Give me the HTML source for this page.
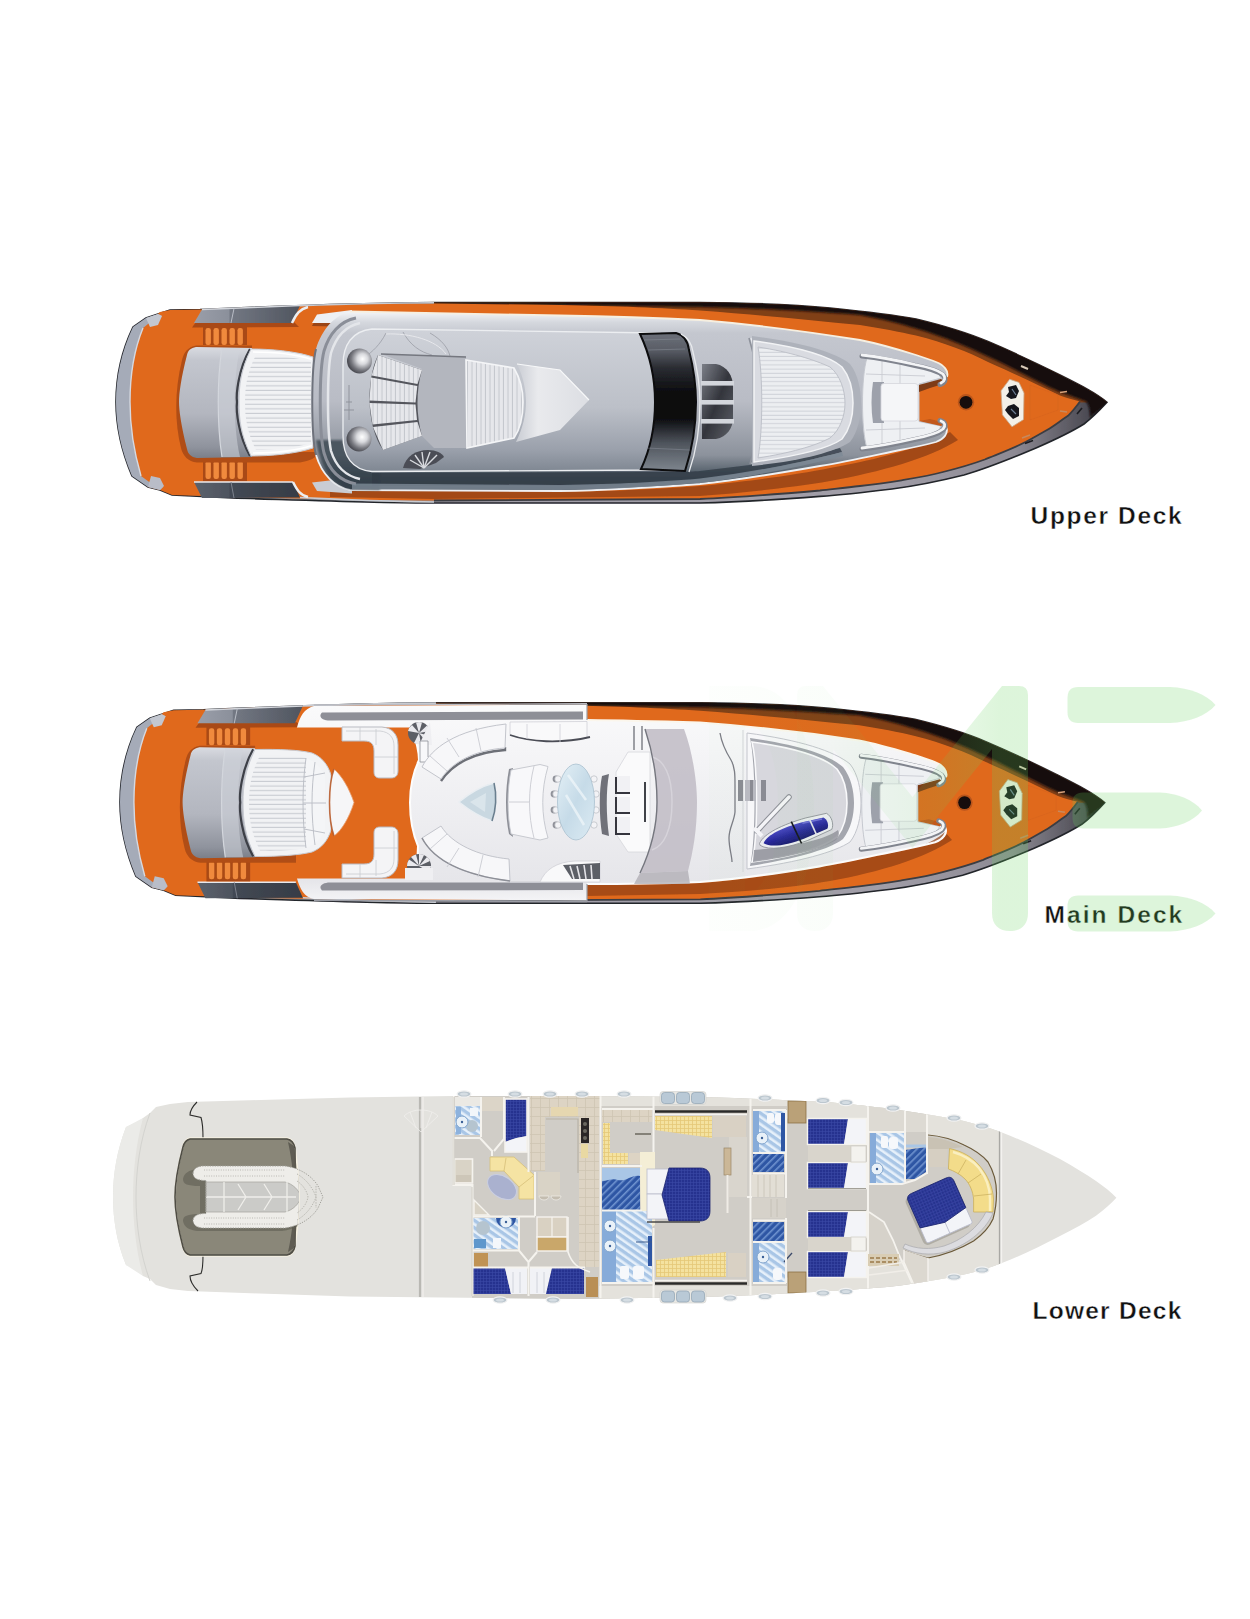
<!DOCTYPE html>
<html lang="en">
<head>
<meta charset="utf-8">
<title>Deck Plans</title>
<style>
html,body{margin:0;padding:0;background:#fff;}
body{width:1250px;height:1619px;overflow:hidden;position:relative;font-family:"Liberation Sans",sans-serif;}
svg{position:absolute;left:0;top:0;display:block;}
.lbl{font-family:"Liberation Sans",sans-serif;font-weight:700;font-size:24.5px;fill:#111;stroke:#fff;stroke-width:0.4px;}
</style>
</head>
<body>
<svg width="1250" height="1619" viewBox="0 0 1250 1619">
<defs>
<path id="hullOuter" d="M170,310 L200,309.5 C280,306 360,303 434,302.5 L700,302.5 C760,303 800,305 830,308 C870,312 900,316 916,319 C945,326 968,333 988,341.6 C1015,353 1040,365 1060,375 C1080,385 1096,393 1107,402.3 C1099,411 1092,418 1084,424 C1068,434 1052,441 1036,448 C1010,459 988,468 964,475 C940,481 915,486 892,489 C868,492 842,495 820,496.4 C780,499.5 740,502 700,503 L434,503 C380,503 300,500 232,498 L172,495 L160,490 L148,487 L132,476 C121,450 116,426 116,402 C116,378 121,352 133,327 L146,318 L158,314 Z"/>
<path id="deckOrange" d="M170,310 L200,309.5 C280,306 360,303.6 434,303.5 L560,305 C620,306 660,308 700,310.5 C760,315 810,320 860,325 C880,328 900,332 916,335.6 C945,343 968,352 988,362 C1015,374 1040,386 1060,395.6 C1068,398.5 1074,400 1080,401.5 C1076,407 1072,412 1068,415.8 C1060,421 1054,426 1047,430 C1040,434 1033,438 1026,441.8 C1012,449 998,454 984.8,459.5 C970,465 957,468.5 943,472 C930,475.5 915,478 901.6,480.3 C888,482.5 874,484.5 860,486 C846,487.8 833,489 820,490.5 C780,494 740,497.5 700,499 L434,500.5 C380,500.5 300,498.5 232,497 L172,495 L160,490 L148,487 L140,478 C134,455 130,428 130,402 C130,376 134,350 142,328 L152,319 L160,312 Z"/>
<linearGradient id="gHullSide" x1="0" y1="0" x2="0" y2="1">
 <stop offset="0" stop-color="#120d0b"/><stop offset="0.2" stop-color="#3a1f10"/><stop offset="0.45" stop-color="#8a4519"/><stop offset="0.55" stop-color="#5a4a40"/><stop offset="0.8" stop-color="#3c3f45"/><stop offset="1" stop-color="#1b1d22"/>
</linearGradient>
<linearGradient id="gSuper" x1="0" y1="0" x2="0" y2="1">
 <stop offset="0" stop-color="#f4f5f7"/><stop offset="0.06" stop-color="#d5d8de"/><stop offset="0.12" stop-color="#c4c7cf"/><stop offset="0.5" stop-color="#b9bcc5"/><stop offset="0.8" stop-color="#8c929c"/><stop offset="0.9" stop-color="#55606b"/><stop offset="1" stop-color="#39434e"/>
</linearGradient>
<linearGradient id="gFly" x1="0" y1="0" x2="0" y2="1">
 <stop offset="0" stop-color="#cfd2d9"/><stop offset="0.55" stop-color="#bcc0c8"/><stop offset="0.85" stop-color="#9aa0ab"/><stop offset="1" stop-color="#7f8792"/>
</linearGradient>
<linearGradient id="gCyl" x1="0" y1="0" x2="0" y2="1">
 <stop offset="0" stop-color="#d9dbe1"/><stop offset="0.12" stop-color="#c3c6ce"/><stop offset="0.6" stop-color="#b3b6bf"/><stop offset="0.9" stop-color="#8f939d"/><stop offset="1" stop-color="#7b7f89"/>
</linearGradient>
<linearGradient id="gGlass" x1="0" y1="0" x2="0" y2="1">
 <stop offset="0" stop-color="#6c7079"/><stop offset="0.12" stop-color="#5a5e67"/><stop offset="0.25" stop-color="#2b2d33"/><stop offset="0.45" stop-color="#08080b"/><stop offset="0.62" stop-color="#0c0c10"/><stop offset="0.8" stop-color="#4f555d"/><stop offset="1" stop-color="#7e858e"/>
</linearGradient>
<linearGradient id="gVent" x1="0" y1="0" x2="1" y2="1">
 <stop offset="0" stop-color="#7b7e87"/><stop offset="0.5" stop-color="#33353c"/><stop offset="1" stop-color="#5d6068"/>
</linearGradient>
<radialGradient id="gDome" cx="0.62" cy="0.42" r="0.6">
 <stop offset="0" stop-color="#ffffff"/><stop offset="0.35" stop-color="#d8d9dd"/><stop offset="0.75" stop-color="#77787f"/><stop offset="1" stop-color="#4d4e55"/>
</radialGradient>
<linearGradient id="gPanelT" x1="0" y1="0" x2="1" y2="0">
 <stop offset="0" stop-color="#9a9ea9"/><stop offset="0.33" stop-color="#8b909b"/><stop offset="0.34" stop-color="#737883"/><stop offset="1" stop-color="#50555f"/>
</linearGradient>
<linearGradient id="gPanelB" x1="0" y1="0" x2="1" y2="0">
 <stop offset="0" stop-color="#5b616c"/><stop offset="0.33" stop-color="#4e545f"/><stop offset="0.34" stop-color="#434954"/><stop offset="1" stop-color="#363c46"/>
</linearGradient>
<linearGradient id="gArrow" x1="0" y1="0" x2="1" y2="0">
 <stop offset="0" stop-color="#c9ccd3"/><stop offset="0.3" stop-color="#e9eaed"/><stop offset="1" stop-color="#dcdee3"/>
</linearGradient>
<pattern id="pHStripe" width="4" height="4.6" patternUnits="userSpaceOnUse">
 <rect width="4" height="4.6" fill="#f1f2f4"/><rect y="3.5" width="4" height="1.1" fill="#c9ccd2"/>
</pattern>
<pattern id="pVStripe" width="4.5" height="4" patternUnits="userSpaceOnUse">
 <rect width="4.5" height="4" fill="#e6e7eb"/><rect x="3.5" width="1" height="4" fill="#c3c6cd"/>
</pattern>
<pattern id="pHStripe2" width="4" height="4.2" patternUnits="userSpaceOnUse">
 <rect width="4" height="4.2" fill="#eceef1"/><rect y="3.2" width="4" height="1" fill="#cfd2d8"/>
</pattern>
<filter id="blur1"><feGaussianBlur stdDeviation="1"/></filter>
<filter id="blur2"><feGaussianBlur stdDeviation="2"/></filter>
<filter id="blur06"><feGaussianBlur stdDeviation="0.6"/></filter>
<linearGradient id="gSuperM" x1="0" y1="0" x2="0" y2="1">
 <stop offset="0" stop-color="#fafafb"/><stop offset="0.5" stop-color="#efeff2"/><stop offset="0.9" stop-color="#e6e6ea"/><stop offset="1" stop-color="#f4f4f6"/>
</linearGradient>
<linearGradient id="gTable" x1="0" y1="0" x2="1" y2="1">
 <stop offset="0" stop-color="#e4f0f6"/><stop offset="0.5" stop-color="#c6dbe8"/><stop offset="1" stop-color="#dcebf3"/>
</linearGradient>
<linearGradient id="gJet" x1="0" y1="0" x2="0" y2="1">
 <stop offset="0" stop-color="#4a49c4"/><stop offset="0.5" stop-color="#2a2a9c"/><stop offset="1" stop-color="#1b1b70"/>
</linearGradient>
<linearGradient id="gTube" x1="0" y1="0" x2="0" y2="1">
 <stop offset="0" stop-color="#ffffff"/><stop offset="0.6" stop-color="#d5d6dc"/><stop offset="1" stop-color="#8f929b"/>
</linearGradient>
<pattern id="pBath" width="6" height="6" patternUnits="userSpaceOnUse" patternTransform="rotate(-55)">
 <rect width="6" height="6" fill="#a9c6e6"/><rect width="2.6" height="6" fill="#e6f0fa"/>
</pattern>
<pattern id="pBlueStripe" width="5" height="5" patternUnits="userSpaceOnUse" patternTransform="rotate(45)">
 <rect width="5" height="5" fill="#2f56a4"/><rect width="1.6" height="5" fill="#6f93cf"/>
</pattern>
<pattern id="pBed" width="3" height="3" patternUnits="userSpaceOnUse">
 <rect width="3" height="3" fill="#27338f"/><rect width="3" height="0.6" fill="#3a47a6"/><rect width="0.6" height="3" fill="#3a47a6"/>
</pattern>
<pattern id="pYellow" width="4" height="4" patternUnits="userSpaceOnUse">
 <rect width="4" height="4" fill="#f4e2a0"/><rect width="4" height="0.8" fill="#e5c877"/><rect width="0.8" height="4" fill="#e5c877"/>
</pattern>
<pattern id="pTile" width="9" height="9" patternUnits="userSpaceOnUse">
 <rect width="9" height="9" fill="#ddd4c4"/><rect width="9" height="0.8" fill="#cfc5b3"/><rect width="0.8" height="9" fill="#cfc5b3"/>
</pattern>
<g id="ph"><ellipse rx="7" ry="3.2" fill="#bcc7cf" stroke="#f2f2f2" stroke-width="1.2"/><ellipse rx="4" ry="1.6" fill="#d5dde3"/></g>
<g id="ph3"><rect x="-23" y="-6.5" width="46" height="13" rx="3" fill="#e9e8e4" stroke="#d0d0cc" stroke-width="0.6"/><rect x="-21.5" y="-5.5" width="13" height="11" rx="3" fill="#b9c9d6" stroke="#8fa2b2" stroke-width="0.7"/><rect x="-6.5" y="-5.5" width="13" height="11" rx="3" fill="#b9c9d6" stroke="#8fa2b2" stroke-width="0.7"/><rect x="8.5" y="-5.5" width="13" height="11" rx="3" fill="#b9c9d6" stroke="#8fa2b2" stroke-width="0.7"/></g>
<g id="sink"><circle r="6" fill="#e9f1f8" stroke="#7fa3cc" stroke-width="1"/><circle r="1.2" fill="#3a5f96"/></g>
<filter id="softB" x="-2%" y="-5%" width="104%" height="110%"><feGaussianBlur stdDeviation="0.55"/></filter>
<linearGradient id="gGun" gradientUnits="userSpaceOnUse" x1="880" y1="0" x2="1105" y2="0"><stop offset="0" stop-color="#a19ea8"/><stop offset="0.6" stop-color="#8d8a94"/><stop offset="1" stop-color="#3d3c44"/></linearGradient>

</defs>
<rect width="1250" height="1619" fill="#ffffff"/>
<g id="upper" filter="url(#softB)">
 <g id="hullAll">
 <!-- hull base -->
 <use href="#hullOuter" fill="#8a8d94"/>
 <!-- bottom gunwale band -->
 <path d="M434,503 L700,503 C740,502 780,499.5 820,496.4 C842,495 868,492 892,489 C915,486 940,481 964,475 C988,468 1010,459 1036,448 C1052,441 1068,434 1084,424 C1092,418 1099,411 1107,402.3 L1080,401.5 L1000,440 L860,480 L700,495 L434,497 Z" fill="url(#gGun)"/>
 <use href="#hullOuter" fill="none" stroke="#23252b" stroke-width="1.6"/>
 <!-- top dark hull side -->
 <path d="M434,302.5 L700,302.5 C760,303 800,305 830,308 C870,312 900,316 916,319 C945,326 968,333 988,341.6 C1015,353 1040,365 1060,375 C1080,385 1096,393 1107,402.3 L1075,402.5 L1000,372 L900,335 L700,312 L434,306 Z" fill="#803f17"/>
 <clipPath id="clipHullU"><use href="#hullOuter"/></clipPath>
 <g clip-path="url(#clipHullU)">
 <path d="M434,300 L700,300 C760,300 800,302 830,305 C870,309 900,313 916,316 C945,323 968,330 988,338.6 C1015,350 1040,362 1060,372 C1080,382 1096,390 1110,400 L1110,404 C1100,409 1094,414 1090,418 C1090,410 1089,405 1086,401.500 C1078,398.500 1068,395 1060,392 C1040,383 1015,369 988,356.500 C968,347 945,337 916,328.500 C900,323.500 880,318.500 860,315 C800,310.500 760,308.500 700,307 L560,305 L434,303.600 Z" fill="#130e0c" filter="url(#blur1)"/>
 </g>
 <!-- orange deck -->
 <use href="#deckOrange" fill="#e0691d"/>
 <!-- dark rim just below the orange at bottom/bow -->
 <path d="M1080,401.5 C1076,407 1072,412 1068,415.8 C1060,421 1054,426 1047,430 C1040,434 1033,438 1026,441.8 C1012,449 998,454 984.8,459.5 C970,465 957,468.5 943,472 C930,475.5 915,478 901.6,480.3 C888,482.5 874,484.5 860,486 C846,487.8 833,489 820,490.5 C780,494 740,497.5 700,499 L434,500.5" fill="none" stroke="#3b3c42" stroke-width="1.8"/>
 <!-- stern grey band -->
 <path d="M158,314 L146,318 L133,327 C121,352 116,378 116,402 C116,426 121,450 132,476 L148,487 L160,490 L163,487 L152,484 L141,476 C134,452 130,428 130,402 C130,376 134,350 143,328 L153,320 L162,316 Z" fill="#a5abb8"/>
 <path d="M143,328 C134,350 130,376 130,402 C130,428 134,452 141,476" fill="none" stroke="#d6d9e0" stroke-width="1.4"/>
 <path d="M146,318 L158,314 L162,316 L158,325 L150,327 Z" fill="#c3c7d0"/>
 <path d="M148,487 L160,490 L164,486 L160,478 L151,476 Z" fill="#b9bdc8"/>
 </g>
  <g id="sternCommon">
 <!-- white line on hull edge -->
 <path d="M300,305.6 C350,304 400,303 434,302.8" fill="none" stroke="#c8cbd2" stroke-width="1.6"/>
 <path d="M300,497.5 C350,500 400,501.5 434,502" fill="none" stroke="#c8cbd2" stroke-width="1.6"/>
 <!-- top panel -->
 <path d="M192,327.5 L196,322 L294,322 L299,327 Z" fill="#a94a14"/>
 <path d="M194,323 L202,309.6 L300,305.6 L292,323 Z" fill="url(#gPanelT)"/>
 <path d="M202,309.6 L300,305.6" stroke="#d3d6dc" stroke-width="1.5" fill="none"/>
 <path d="M234,308.5 L231,323" stroke="#b9bdc6" stroke-width="1" fill="none"/>
 <!-- bottom panel -->
 <path d="M194,482 L293,482 L300,497.5 L202,498 Z" fill="url(#gPanelB)"/>
 <path d="M194,482 L293,482" stroke="#e8e9ed" stroke-width="1.6" fill="none"/>
 <path d="M231,482 L234,498" stroke="#7c828d" stroke-width="1" fill="none"/>
 <!-- grills -->
 <g>
  <rect x="203" y="326" width="44" height="19" fill="#a94a14"/>
  <g fill="#f08a3e">
   <rect x="205.5" y="328" width="5.4" height="17" rx="2.2"/><rect x="213.5" y="328" width="5.4" height="17" rx="2.2"/><rect x="221.5" y="328" width="5.4" height="17" rx="2.2"/><rect x="229.5" y="328" width="5.4" height="17" rx="2.2"/><rect x="237.5" y="328" width="5.4" height="17" rx="2.2"/>
  </g>
  <rect x="203" y="461" width="44" height="20" fill="#a94a14"/>
  <g fill="#f08a3e">
   <rect x="205.5" y="461" width="5.4" height="18" rx="2.2"/><rect x="213.5" y="461" width="5.4" height="18" rx="2.2"/><rect x="221.5" y="461" width="5.4" height="18" rx="2.2"/><rect x="229.5" y="461" width="5.4" height="18" rx="2.2"/><rect x="237.5" y="461" width="5.4" height="18" rx="2.2"/>
  </g>
 </g>
 <!-- shadow of sunpad body -->
 <path d="M196,345.5 C188,347 184,352 182,360 C175,388 174,420 181,448 C183,456 188,461.5 197,462.5 L300,462.5 C310,461 316,458 320,452 L252,452 L252,345.500 Z" fill="#b04e16"/>
 <!-- grey body -->
 <path d="M196,347 L252,348 L252,457 L197,458 C191,457 188,454 187,449 C181,425 179,410 179,402 C179,394 181,378 187,355 C188,350 191,348 196,347 Z" fill="url(#gCyl)"/>
 <path d="M222,348 C217,380 217,425 222,457" fill="none" stroke="#d5d8de" stroke-width="1.2"/>
 <path d="M222,348 C217,380 217,425 222,457 L240,457 C233,425 233,380 240,348 Z" fill="#d0d3da" opacity="0.55"/>
 <path d="M250,349 C238,370 236,395 237,402 C236,410 238,435 250,456" fill="none" stroke="#3d3f47" stroke-width="2.2"/>
 </g>
 <!-- cushion (upper deck version) -->
 <path d="M251,349 C270,349 295,351 313,357 L313,448 C295,454 270,456 251,456 C241,435 239,420 239,402 C239,385 241,370 251,349 Z" fill="#f2f3f5" stroke="#c8cbd2" stroke-width="1"/>
 <path d="M256,355 C272,355 295,357 311,362 L311,443 C295,448 272,450 256,450 C247,432 245,418 245,402 C245,387 247,372 256,355 Z" fill="url(#pHStripe)"/>
 <path d="M253,352 C270,352 295,354 312,359.5 M253,453 C270,453 295,451 312,445.5" fill="none" stroke="#ffffff" stroke-width="1.5"/>

  <!-- shadow under superstructure on deck (bottom side) -->
 <path d="M330,489 L560,492 C620,491 660,489 700,486 C760,480 800,474 830,468 C880,459 920,448 950,432 L958,440 C930,458 880,472 830,481 C790,488 740,493 700,496 L434,499 L330,497 Z" fill="#8f3f14" opacity="0.75"/>
 <!-- rim highlight above superstructure -->
 <path d="M292,323 C296,314 300,309 308,307" fill="none" stroke="#eceef1" stroke-width="2.5"/>
 <path d="M293,482 C297,490 300,495 308,497" fill="none" stroke="#eceef1" stroke-width="2.5"/>
 <!-- ledges at aft end of superstructure -->
 <path d="M312,326 L317,316.500 L352,311.500 L352,322 L334,326.500 Z" fill="#9a4415"/>
 <path d="M312,323 L317,314.500 L352,310 L352,319 L334,323 Z" fill="#eef0f3"/>
 <path d="M312,482.500 L317,491 L352,493.500 L352,484 L334,480 Z" fill="#c9ccd3"/>
 <!-- superstructure body -->
 <path id="superU" d="M350,311.5 L560,315.5 C620,316.5 660,318 700,320 C760,325 810,332 860,340 C880,344 900,350 916,355 C925,358 931,360 936,362 C944,365 949,371 947,377 L940,383 L919,385 L919,421 L940,421 L946,427 C949,433 944,439 936,442 C925,445 916,447 900,450 C880,454 850,461 820,466 C780,473 740,480 700,484 C660,487 620,490 560,491 L350,490 C335,487 322,475 316,455 C311,435 311,369 316,349 C322,329 335,315 350,311.5 Z" fill="url(#gSuper)"/>
 <path d="M350,311.5 L560,315.5 C620,316.5 660,318 700,320 C760,325 810,332 860,340 C880,344 900,350 916,355 C925,358 931,360 936,362 C944,365 949,371 947,377" fill="none" stroke="#f6efe0" stroke-width="1.8"/>
 <path d="M946,427 C949,433 944,439 936,442 C925,445 916,447 900,450 C880,454 850,461 820,466 C780,473 740,480 700,484 C660,487 620,490 560,491 L350,490 C335,487 322,475 316,455" fill="none" stroke="#eef0f3" stroke-width="1.8"/>
 <path d="M316,440 C317,447 318,452 320,457 C326,476 338,487 352,489.500 L380,490 L380,473 C360,472 346,462 343,440 Z" fill="#2f3a44" opacity="0.7" filter="url(#blur1)"/>
 <!-- left end rings -->
 <path d="M356,318 C340,321 329,334 324,351 C319,371 319,433 324,453 C329,470 340,481 356,484" fill="none" stroke="#8a8e98" stroke-width="3"/>
 <path d="M360,323 C346,326 336,337 331,353 C327,372 327,432 331,451 C336,467 346,476 360,479" fill="none" stroke="#e4e6ea" stroke-width="2.5"/>
 <path d="M316,349 C311,369 311,435 316,455" fill="none" stroke="#6e727c" stroke-width="2"/>
 <!-- flybridge floor -->
 <path d="M372,329 L660,333 L660,470 L372,471.5 C352,470 343,456 343,436 L343,365 C343,345 352,331 372,329 Z" fill="url(#gFly)" stroke="#eceef1" stroke-width="1.3"/>
 <!-- bottom dark band of superstructure (shadow side) -->
 <path d="M372,473 L646,472 C660,472 690,472 700,471 C750,466 800,458 840,448 L842,452 C800,463 750,473 700,479 C660,483 620,485 560,486 L372,486 Z" fill="#2f3a44" opacity="0.75"/>
 <path d="M352,483.500 L560,485 C620,484 660,482 700,478.500 C750,472.500 800,463 842,452 L843,456 C800,467 750,477 700,483 C660,486 620,489 560,490 L352,489 Z" fill="#7d8a96" opacity="0.8"/>
 <!-- curved construction lines -->
 <path d="M386,333 C380,345 372,352 366,356 M403,332 C410,345 420,352 432,355 M430,333 C442,340 448,348 450,356" fill="none" stroke="#9a9da6" stroke-width="0.8"/>
 <path d="M386,334 C410,333 436,340 446,354" fill="none" stroke="#e7e8ec" stroke-width="1"/>
 <!-- mid grey table area -->
 <path d="M381,354 L466,357 L467,448 L434,448 L422,436 C416,415 416,390 422,369 Z" fill="#b3b6be"/>
 <path d="M381,354 L466,357" stroke="#74777f" stroke-width="1.5" fill="none"/>
 <!-- fan seats -->
 <path d="M378,355 L422,370 C416,390 416,415 422,436 L383,450 C366,425 366,380 378,355 Z" fill="#54565d"/>
 <g>
  <path d="M378,355 L422,370 L417.500,384 L371.500,375.500 Z" fill="url(#pVStripe)"/>
  <path d="M371,377.500 L417.300,386 L415.500,402.500 L369.500,400.500 Z" fill="url(#pVStripe)"/>
  <path d="M369.500,403 L415.500,404.500 L417,420 L372.500,424.500 Z" fill="url(#pVStripe)"/>
  <path d="M373,427 L417.500,422 L422,436 L383,450 Z" fill="url(#pVStripe)"/>
 </g>
 <!-- domes -->
 <circle cx="359.5" cy="361" r="12.5" fill="url(#gDome)"/>
 <circle cx="359" cy="439" r="12.5" fill="url(#gDome)"/>
 <!-- steering emblem -->
 <path d="M349,385 L349,420 M346,402 L352,402 M344,410 L354,410" stroke="#8d9099" stroke-width="0.9" fill="none"/>
 <!-- spiral stair -->
 <path d="M403,468 C406,456 416,450 428,450 C436,450 442,453 444,457 L436,463 L420,469 Z" fill="#4b4e56"/>
 <g stroke="#d9dbe0" stroke-width="1.4" fill="none">
  <path d="M424,468 L410,460"/><path d="M424,468 L415,455"/><path d="M424,468 L422,452"/><path d="M424,468 L430,452"/><path d="M424,468 L437,455"/>
 </g>
 <!-- sunpad (vertical lines) -->
 <path d="M466,360 L514,368 C521,380 523,392 523,402 C523,414 521,428 514,438 L467,448 Z" fill="url(#pVStripe)" stroke="#f4f5f7" stroke-width="1.6"/>
 <!-- arrow -->
 <path d="M517,364 L560,370 L589,400 L560,430 L516,442 C523,428 526,414 526,402 C526,392 524,378 517,364 Z" fill="url(#gArrow)"/>
 <path d="M517,364 L560,370 L589,400" fill="none" stroke="#f7f8f9" stroke-width="1.2"/>
 <!-- glass band -->
 <path d="M640,334 L676,333 C684,335 688,342 689,350 C694,370 696,385 696,402 C696,425 692,450 685,471 L641,469 C650,450 655,425 655,402 C655,380 650,355 640,334 Z" fill="url(#gGlass)" stroke="#0c0c10" stroke-width="2"/>
 <path d="M644,340 L680,339 M648,350 L685,349 M646,448 L690,450" stroke="#8d929b" stroke-width="0.8" opacity="0.6" fill="none"/>
 <path d="M681,334 C689,338 692,345 693,352 C698,372 700,386 700,402 C700,426 696,452 689,472" fill="none" stroke="#e9ebee" stroke-width="1.3"/>
 <!-- vent -->
 <path d="M702,364 L716,364 C727,366 733,376 733,386 L733,418 C733,428 727,437 716,439 L702,439 Z" fill="url(#gVent)"/>
 <g fill="#d3d6dc"><rect x="701" y="381" width="33" height="4.6"/><rect x="701" y="400" width="33" height="4.6"/><rect x="701" y="419" width="33" height="4.6"/></g>
 <!-- roof front edge -->
 <path d="M749,338 C756,360 758,385 757,402 C758,420 756,445 750,464" fill="none" stroke="#8e929b" stroke-width="1.6"/>
 <path d="M751,338 C758,360 760,385 759,402 C760,420 758,445 752,464" fill="none" stroke="#e9ebee" stroke-width="1.2"/>
 <!-- foredeck frame rings -->
 <path d="M752,336 C800,342 835,352 850,364 C858,374 861,390 861,403 C861,416 858,432 850,442 C835,452 800,461 752,466 Z" fill="#aeb2bb"/>
 <path d="M754,341 C798,347 828,355 842,367 C850,377 853,391 853,403 C853,415 850,429 842,439 C828,449 798,456 754,462 Z" fill="#d9dbe1" stroke="#f2f3f5" stroke-width="1.5"/>
 <!-- striped pad -->
 <path d="M758,347 C790,352 815,360 830,367 C840,375 845,390 845,403 C845,416 840,430 830,438 C815,446 790,453 758,458 C763,430 763,375 758,347 Z" fill="url(#pHStripe2)" stroke="#bfc2ca" stroke-width="1"/>
 <g id="fwdSeat">
 <!-- forward seating -->
 <path d="M867,358 L915,364 C930,367 938,371 941,378 L919,384 L919,421.5 L941,426 C938,433 930,438 915,441 L867,448 C861,430 861,376 867,358 Z" fill="#eef0f3" stroke="#c5c8cf" stroke-width="1"/>
 <g stroke="#c9ccd3" stroke-width="0.9" fill="none">
  <path d="M866,374 L925,376 M866,430 L925,428 M882,360 L882,446 M900,362 L900,444"/>
 </g>
 <path d="M873,382 L884,382 L884,423 L873,423 C871,410 871,395 873,382 Z" fill="#9da1ab" filter="url(#blur06)"/>
 <rect x="881" y="383.5" width="37" height="37.5" rx="3" fill="#f5f6f8" stroke="#d4d6dc" stroke-width="0.8"/>
 <!-- opening shadow -->
 <path d="M919,385 L941,379 L946,383 L930,388 L919,392 Z" fill="#7c3a14"/>
 <path d="M919,421 L941,426 L946,423 L930,419 Z" fill="#c2581a"/>
 
 <!-- tubes -->
 <g fill="none" stroke-linecap="round">
  <path d="M862,356 C880,358 900,362 915,365.500 C928,368 938,371 943,375 C947,379 945,383 940,384.500" stroke="#80848e" stroke-width="5"/>
  <path d="M862,355 C880,357 900,361 915,364.500 C928,367 938,370 943,374 C946,377.500 945,381 941,383" stroke="#f3f4f6" stroke-width="2.8"/>
  <path d="M862,449 C880,447 900,443 915,439.500 C928,437 938,434 943,430 C947,426 945,422 940,420.500" stroke="#80848e" stroke-width="5"/>
  <path d="M862,448 C880,446 900,442 915,438.500 C928,436 938,433 943,429 C946,425.500 945,422.500 941,421" stroke="#f3f4f6" stroke-width="2.8"/>
 </g>
 </g>

  <g id="bowCommon">
 <circle cx="966" cy="402.3" r="8.2" fill="#b9551a"/>
 <circle cx="966" cy="402.3" r="6.4" fill="#120c0a"/>
 <path d="M1009.6,379.3 L1019,382.4 L1024,393 L1023.5,419.6 L1012,426.8 L1002.4,414.8 L1001,390.8 Z" fill="#f3f0e8" stroke="#c9a98a" stroke-width="0.8"/>
 <path d="M1008,387 L1016,385 L1019,391 L1016,398 L1011,399 L1006,396 L1009,392 Z" fill="#15171c"/>
 <path d="M1008,406 L1014,404 L1019,408 L1019,416 L1013,419 L1008,414 L1005,410 Z" fill="#15171c"/>
 <path d="M1012,389 L1016,395 M1011,409 L1016,414" stroke="#6d7f95" stroke-width="1.2"/>
 <path d="M1021,366 L1028,369" stroke="#d9c9b8" stroke-width="2"/>
 <path d="M1060,392.5 L1067,391.5" stroke="#d8a27a" stroke-width="1.6"/>
 <path d="M1060,411 L1067,412" stroke="#c58a5f" stroke-width="1.6"/>
 <path d="M1077,414 L1082,408" stroke="#1b1c20" stroke-width="1.6"/>
 <path d="M1022,438 L1030,435" stroke="#c58a5f" stroke-width="1.6"/>
 <path d="M1025,443.5 L1033,440.5" stroke="#1b1c20" stroke-width="1.6"/>
 <path d="M1030,385 L1058,395 L1058,410 L1030,420 Z" fill="none" stroke="#d2611b" stroke-width="0.7" opacity="0.6"/>
 </g>

</g>

<g id="main" filter="url(#softB)">
 <g transform="translate(4.74,400.3) scale(0.9936,1)">
  <use href="#hullAll"/>
  <use href="#sternCommon"/>
  <use href="#bowCommon"/>
 </g>
  <!-- white side/superstructure overlay -->
 <path d="M297,727.5 C300,716 304,709 314,706 L587,704.5 L587,720 C630,720.5 665,721.5 700,722.5 C760,727 810,733 859,740.5 C880,744.5 899,750.5 915,755.3 C924,758.3 930,760.3 935,762.3 C943,765.3 948,771.3 946,777.3 L939,783.3 L918,785.3 L918,821.3 L939,821.3 L945,827.3 C948,833.3 943,839.3 935,842.3 C924,845.3 915,847.3 899,850.3 C879,854.3 849,861.3 819.5,866.3 C780,873 740,879 700,882 C660,883.5 620,884 587,884 L587,900.5 L314,899 C304,897 300,889 297,878.5 Z" fill="url(#gSuperM)"/>
 <!-- shadow on deck under bottom edge fwd -->
 <path d="M587,885 C620,885 660,884.5 700,883 C740,880 780,874 819.5,867.3 C849,862.3 879,855.3 899,851.3 C915,848.3 930,845 945,832 L952,840 C925,858 880,872 830,881 C790,888 740,892 700,894 L587,896 Z" fill="#8f3f14" opacity="0.7"/>
 <path d="M587,884 C620,884 660,883.5 700,882 C740,879 780,873 819.5,866.3 C849,861.3 879,854.3 899,850.3 C915,847.3 924,845.3 935,842.3 C943,839.3 948,833.3 945,827.3" fill="none" stroke="#fbfbfc" stroke-width="2.2"/>
 <path d="M587,720 C630,720.5 665,721.5 700,722.5 C760,727 810,733 859,740.5 C880,744.5 899,750.5 915,755.3 C924,758.3 930,760.3 935,762.3 C943,765.3 948,771.3 946,777.3" fill="none" stroke="#fbf6ec" stroke-width="2"/>
 <!-- hull edge lines in white zone -->
 <path d="M314,705 L587,703.8" stroke="#b9bbc2" stroke-width="1.4" fill="none"/>
 <path d="M314,900.3 L587,901.5" stroke="#9b9da5" stroke-width="1.6" fill="none"/>
 <path d="M587,704 L587,720 M587,884 L587,901" stroke="#9b9da5" stroke-width="1.2" fill="none"/>
 <!-- grey side bands -->
 <path d="M322,712.5 L583,711.5 L583,719.5 L330,720.5 C322,720.5 318,716.5 322,712.5 Z" fill="#8e8f97"/>
 <path d="M330,882.5 L583,882.5 L583,890 L322,890.5 C318,886.5 322,882.5 330,882.5 Z" fill="#8e8f97"/>
 <!-- orange aft deck -->
 <path d="M296,727.5 L412,727.5 C416,740 419,752 419,760 C412,775 410,790 410,802.5 C410,816 412,832 418,846 C418,856 416,868 412,878.5 L296,878.5 Z" fill="#e0691d"/>
 <!-- sofas on aft deck -->
 <path d="M342,727 L382,727 C393,728 398,735 398,745 L398,771 C398,776 395,778 391,778 L380,778 C376,778 374,776 374,772 L374,751 C374,744 371,741 364,741 L342,741 Z" fill="#f4f4f6" stroke="#b9bbc2" stroke-width="1"/>
 <path d="M342,878 L382,878 C393,877 398,870 398,860 L398,834 C398,829 395,827 391,827 L380,827 C376,827 374,829 374,833 L374,854 C374,861 371,864 364,864 L342,864 Z" fill="#f4f4f6" stroke="#b9bbc2" stroke-width="1"/>
 <g fill="none" stroke="#c9cbd1" stroke-width="0.8">
  <path d="M360,727 L360,741 M376,729 L376,745 M374,757 L398,757 M346,731 L380,731 C390,732 394,738 394,746 L394,774"/>
  <path d="M360,878 L360,864 M376,876 L376,860 M374,848 L398,848 M346,874 L380,874 C390,873 394,867 394,859 L394,831"/>
 </g>
 <!-- salon floor edge -->
 <path d="M412,727.5 C416,740 419,752 419,760 C412,775 410,790 410,802.5 C410,816 412,832 418,846 C418,856 416,868 412,878.5" fill="none" stroke="#fdfdfd" stroke-width="2"/>
 <!-- stairs -->
 <g>
  <circle cx="419" cy="733" r="11" fill="#5c5e66"/>
  <path d="M419,733 L408,731 A11,11 0 0 1 412,725 Z M419,733 L416,722.5 A11,11 0 0 1 422,722.4 Z M419,733 L427,725.5 A11,11 0 0 1 430,731 Z M419,733 L430,736 A11,11 0 0 1 426,741.5 Z M419,733 L421,744 A11,11 0 0 1 414,743 Z" fill="#e9e9ed"/>
  <path d="M430,722 L432,745 L419,745 Z" fill="#efeff2"/>
  <circle cx="419" cy="866" r="12" fill="#5c5e66"/>
  <path d="M419,866 L407,866 A12,12 0 0 1 409,859.5 Z M419,866 L411,857 A12,12 0 0 1 416,854.4 Z M419,866 L419,854 A12,12 0 0 1 424,855 Z M419,866 L427,857 A12,12 0 0 1 430,861 Z M419,866 L431,866 A12,12 0 0 1 429,872 Z" fill="#e9e9ed"/>
  <path d="M405,868 L433,868 L433,880 L405,880 Z" fill="#efeff2"/>
 </g>
 <path d="M420,741 L428,741 L428,757 L432,757 L432,762 L420,762 Z" fill="#f8f8fa" stroke="#8d8f97" stroke-width="0.8"/>
 <!-- top curved sofa -->
 <path d="M441,781 C452,764 474,752 505,750 L505,747" fill="none" stroke="#6d6f77" stroke-width="2.4"/>
 <path d="M422,767 C432,748 455,730 506,724 L505,748 C475,750 452,762 441,779 Z" fill="#f7f7f9" stroke="#c3c5cc" stroke-width="1"/>
 <path d="M430,756 L447,771 M447,738 L459,757 M476,728 L481,751" stroke="#c9cbd1" stroke-width="0.9" fill="none"/>
 <!-- bottom curved sofa -->
 <path d="M422,838 C432,857 455,874 510,881 L509,859 C478,856 452,844 441,826 Z" fill="#f7f7f9" stroke="#c3c5cc" stroke-width="1"/>
 <path d="M422,838 C432,857 455,874 510,881" fill="none" stroke="#8d8f97" stroke-width="1.6"/>
 <path d="M430,849 L447,834 M447,867 L459,848 M478,877 L483,855" stroke="#c9cbd1" stroke-width="0.9" fill="none"/>
 <!-- cabinetry top/bottom of salon -->
 <path d="M510,722 L587,721.5 L587,738 C560,744 530,742 510,735 Z" fill="#f9f9fa" stroke="#d0d1d7" stroke-width="0.8"/>
 <path d="M510,735 C530,742 560,744 590,737" fill="none" stroke="#4c4e56" stroke-width="1.8"/>
 <path d="M527,724 L527,739 M560,724 L560,742" stroke="#d0d1d7" stroke-width="0.8"/>
 <path d="M510,882 L540,882 C545,870 556,862 575,861 L600,861 L600,882 Z" fill="#f9f9fa" stroke="#d0d1d7" stroke-width="0.8"/>
 <!-- fwd stair -->
 <path d="M563,865 L600,863 L600,879 L572,879 Z" fill="#5c5e66"/>
 <path d="M570,866 L574,879 M577,866 L580,879 M584,865 L586,879 M591,865 L592,879" stroke="#e4e4e8" stroke-width="1.6"/>
 <!-- triangle table -->
 <path d="M459,802 C470,793 482,786 494,783 C497,795 496,810 492,821 C480,817 469,810 459,802 Z" fill="#c9d8e1" stroke="#e9eef2" stroke-width="1.4"/>
 <path d="M494,783 C497,795 496,810 492,821" fill="none" stroke="#6a7f8f" stroke-width="1.6"/>
 <path d="M470,802 L486,793 L485,812 Z" fill="#dfe9ee" opacity="0.8"/>
 <!-- center sofa -->
 <path d="M509,769 C505,790 505,815 509,834 L513,837 C509,815 509,790 513,768 Z" fill="#8c8e96"/>
 <path d="M511,770 L540,764.5 L548,766.5 C541,790 541,815 548,838 L540,840 L511,834 C507,815 507,790 511,770 Z" fill="#f8f8fa" stroke="#c3c5cc" stroke-width="0.9"/>
 <path d="M534,766 C528,790 528,815 534,838 M509,802 L530,802" fill="none" stroke="#c9cbd1" stroke-width="0.9"/>
 <!-- dining table -->
 <g fill="#8f9199">
  <circle cx="556" cy="779" r="3.4"/><circle cx="554" cy="794" r="3.4"/><circle cx="554" cy="810" r="3.4"/><circle cx="556" cy="825" r="3.4"/>
 </g>
 <g fill="#f3f3f6" stroke="#b9bbc2" stroke-width="0.7">
  <circle cx="558" cy="779" r="3.2"/><circle cx="556" cy="794" r="3.2"/><circle cx="556" cy="810" r="3.2"/><circle cx="558" cy="825" r="3.2"/>
  <circle cx="594" cy="779" r="3.2"/><circle cx="596" cy="794" r="3.2"/><circle cx="596" cy="810" r="3.2"/><circle cx="594" cy="825" r="3.2"/>
 </g>
 <ellipse cx="576" cy="802" rx="18.5" ry="38" fill="url(#gTable)" stroke="#a9c0cf" stroke-width="0.8"/>
 <path d="M568,775 L586,800 M566,795 L584,825" stroke="#f2f8fb" stroke-width="2.5" opacity="0.7"/>

  <!-- main deck aft cushion -->
 <path d="M255,749.5 C280,749 300,750 312,753 C322,757 328,765 331,775 L331,830 C328,840 322,848 312,852 C300,855 280,856.5 255,856.5 C245,836 243,820 243,802.5 C243,786 245,770 255,749.5 Z" fill="#f2f3f5" stroke="#c8cbd2" stroke-width="1"/>
 <path d="M260,755.5 C280,755 296,756 306,758 L306,848 C296,850 280,851 260,850.5 C251,833 249,818 249,802.5 C249,788 251,773 260,755.5 Z" fill="url(#pHStripe)"/>
 <path d="M306,758 C316,762 322,768 325,776 L325,829 C322,838 316,844 306,848 Z" fill="#f4f5f7"/>
 <g fill="none" stroke="#b8bbc3" stroke-width="0.9">
  <path d="M306,758 C302,785 302,820 306,848"/>
  <path d="M304,777 L325,773 M303,803 L326,803 M304,829 L325,833 M315,762 C311,790 311,815 315,845"/>
 </g>
 <!-- lens cushion -->
 <path d="M334,769 C328,785 328,820 334,836 C342,830 349,818 354,802.5 C349,788 342,776 334,769 Z" fill="#f6f6f8" stroke="#e9a070" stroke-width="0.8"/>
 <path d="M334,769 C328,785 328,820 334,836" fill="none" stroke="#a9491a" stroke-width="1.6" opacity="0.7"/>

  <!-- helm -->
 <path d="M602,776 C599,790 599,815 602,834 L609,836 C606,815 606,790 609,774 Z" fill="#6f7179"/>
 <path d="M628,752 L650,752 L650,852 L628,852 L616,834 L616,772 Z" fill="#fafafb" stroke="#d6d7dc" stroke-width="0.8"/>
 <g fill="#f1f1f4" stroke="#33353b" stroke-width="0">
  <rect x="617" y="776" width="13" height="16"/><rect x="617" y="797" width="13" height="16"/><rect x="617" y="817" width="13" height="16"/>
 </g>
 <g fill="none" stroke="#34363c" stroke-width="2">
  <path d="M616,777 L616,793 L630,793"/><path d="M616,797 L616,813 L630,813"/><path d="M616,817 L616,834 L630,834"/>
 </g>
 <path d="M645,782 L645,822" stroke="#2c2e34" stroke-width="1.8"/>
 <path d="M634,726 L634,750 M642,726 L642,750" stroke="#6f7179" stroke-width="1.3"/>
 <!-- glass shadow band -->
 <path d="M645,729 L684,729 C692,750 697,780 697,802 C697,830 693,852 688,871 L640,873 C650,852 657,828 657,802 C657,776 652,750 645,729 Z" fill="#bfbbc4" opacity="0.85"/>
 <path d="M652,757 C664,760 672,775 672,802 C672,830 664,846 652,850" fill="none" stroke="#d6d3da" stroke-width="1.5"/>
 <path d="M645,729 C652,750 657,776 657,802 C657,828 650,852 640,873" fill="none" stroke="#74767e" stroke-width="1.4"/>
 <path d="M640,873 L634,884 L690,884 L688,871 Z" fill="#a9a6ae" opacity="0.7"/>
 <!-- wavy line -->
 <path d="M720,733 C722,745 726,752 731,760 C735,767 735,775 735,785 L735,812 C734,822 729,828 729,838 C729,848 732,856 732,862" fill="none" stroke="#7b7c85" stroke-width="1.3"/>
 <path d="M743,730 L743,872" stroke="#d3d4d9" stroke-width="1"/>
 <!-- garage frames -->
 <path d="M747,733 C800,740 834,751 850,764 C858,774 861,790 861,803 C861,816 858,832 850,842 C835,852 800,862 747,869 Z" fill="#f7f7f9" stroke="#c3c5cc" stroke-width="1"/>
 <path d="M750,738 C798,745 828,754 843,767 C851,777 854,791 854,803 C854,815 851,829 843,839 C828,850 798,858 750,866 C756,840 756,765 750,738 Z" fill="#a4a6ae"/>
 <path d="M752,742 C796,748 824,757 837,769 C844,778 847,791 847,803 C847,815 844,828 837,837 C824,847 796,856 752,862 C758,838 758,768 752,742 Z" fill="#d7d7dd" stroke="#f9f9fb" stroke-width="1.6"/>
 <path d="M754,850 C796,846 824,840 838,830 C840,834 838,838 836,840 C822,849 796,856 753,862 Z" fill="#8e9098" opacity="0.8"/>
 <!-- window bars -->
 <rect x="738" y="780" width="5" height="21" fill="#8a8b93"/><rect x="745" y="780" width="11" height="21" fill="#b9bac1"/><rect x="750" y="780" width="3" height="21" fill="#8a8b93"/><rect x="761" y="780" width="5" height="21" fill="#8a8b93"/>
 <!-- crane -->
 <path d="M757,831 L789,797" stroke="#8d8f97" stroke-width="5.5" stroke-linecap="round"/>
 <path d="M757,831 L789,797" stroke="#f4f4f7" stroke-width="3.5" stroke-linecap="round"/>
 <path d="M754,828 L762,836" stroke="#f4f4f7" stroke-width="4"/>
 <!-- jet ski -->
 <g transform="translate(795,833) rotate(-18)">
  <path d="M-37,-1 C-30,-9 -10,-12 15,-11 L36,-9 C40,-5 40,4 36,8 L10,11 C-12,12 -30,9 -37,1 Z" fill="#ecedf1" stroke="#8d8f97" stroke-width="0.8"/>
  <path d="M-33,0 C-27,-7 -10,-9 10,-8 L32,-6 C35,-3 35,3 32,6 L8,8 C-12,9 -27,7 -33,0 Z" fill="url(#gJet)"/>
  <path d="M0,-12 L3,12" stroke="#15161a" stroke-width="1.6"/>
  <path d="M10,-7 L30,-5" stroke="#7d7ce0" stroke-width="1.5" opacity="0.8"/>
  <path d="M18,-9 L20,9" stroke="#e4e4ec" stroke-width="1.6"/>
 </g>
 <g transform="translate(4.74,400.3) scale(0.9936,1)"><use href="#fwdSeat"/></g>

</g>

<g id="lower" filter="url(#softB)">
 <path id="hullL" d="M188,1102 L350,1097.4 L452,1096 L580,1096 L700,1097 C750,1098.5 790,1100 825,1102 C850,1104 872,1106.5 892,1109 C920,1113 944,1117 964,1121 C978,1124.5 990,1128 1000,1131.8 C1022,1140 1042,1150 1060,1159 C1074,1167 1086,1174 1096,1181 C1104,1186.5 1111,1192 1116.4,1197.8 C1111,1203.5 1104,1210 1096,1215.8 C1086,1222.5 1074,1229 1060,1236 C1042,1245.5 1022,1255.5 1000,1263.8 C990,1267.5 978,1271.5 964,1274.6 C944,1279 920,1283 892,1286.6 C872,1288.5 850,1290 820,1291.5 C790,1293.5 750,1295.5 700,1297 L580,1299 L350,1296.5 L188,1291 L170,1289 L156,1285 L150,1279 L143,1276 L138,1270 L126,1265 C117,1243 113,1220 113,1197 C113,1174 117,1150 126,1127 L138,1122 L143,1118 L150,1113 L156,1107 L170,1104 Z" fill="#e3e2de"/>
 <!-- stern platform lighter -->
 <path d="M143,1118 L126,1127 C117,1150 113,1174 113,1197 C113,1220 117,1243 126,1265 L143,1276 C136,1250 133,1222 133,1197 C133,1172 136,1144 143,1118 Z" fill="#ebebe8"/>
 <path d="M150,1113 C140,1140 136,1170 136,1197 C136,1224 140,1254 150,1281" fill="none" stroke="#d3d3cf" stroke-width="1"/>
 <!-- transom line -->
 <path d="M197,1102 C193,1106 190,1110 190,1115 L201,1117.5 C203,1124 203,1131 203,1138 M203,1255 C203,1262 203,1269 201,1273.5 L190,1276 C190,1281 193,1286 198,1291" fill="none" stroke="#2c2c2a" stroke-width="1.1"/>
 <!-- garage -->
 <path d="M190,1138 L287,1138 C292,1139 294,1142 295,1147 C298,1170 299,1185 299,1197 C299,1209 298,1225 295,1247 C294,1252 292,1255 287,1256 L190,1256 C186,1255 184,1252 183,1248 C177,1225 175,1210 175,1197 C175,1184 177,1169 183,1146 C184,1142 186,1139 190,1138 Z" fill="#8a8779" stroke="#f6f1e2" stroke-width="1.6"/>
 <path d="M190,1139 L287,1139 C292,1140 294,1143 295,1148 L295,1246 C294,1251 292,1254 287,1255 L190,1255 C186,1254 184,1251 183,1247 C177,1224 175,1210 175,1197 C175,1184 177,1170 183,1147 C184,1143 186,1140 190,1139 Z" fill="none" stroke="#4f4d45" stroke-width="1.6"/>
 <path d="M288,1142 C292,1160 294,1180 294,1197 C294,1214 292,1234 288,1252 L294,1248 L296,1197 L294,1146 Z" fill="#5e5c52"/>
 <!-- tender -->
 <clipPath id="clipGar"><path d="M190,1139 L287,1139 C292,1140 294,1143 295,1148 C298,1170 299,1185 299,1197 C299,1209 298,1225 295,1246 C294,1251 292,1254 287,1255 L190,1255 C186,1254 184,1251 183,1247 C177,1224 175,1210 175,1197 C175,1184 177,1170 183,1147 C184,1143 186,1140 190,1139 Z"/></clipPath>
 <g clip-path="url(#clipGar)">
  <path d="M186,1176 C187,1170 192,1167 200,1166 L285,1166 C300,1168 312,1176 318,1186 L323,1197 L318,1208 C312,1218 300,1226 285,1228 L200,1228 C192,1227 187,1224 186,1218 C186,1213 190,1211 203,1211 L203,1183 C190,1183 186,1181 186,1176 Z" fill="#5f5d54" opacity="0.6" transform="translate(-3,3)"/>
  <path d="M193,1173 C194,1168 198,1166 204,1166 L285,1166 C300,1168 312,1176 318,1186 L323,1197 L318,1208 C312,1218 300,1226 285,1228 L204,1228 C198,1228 194,1226 193,1221 C193,1216 197,1213.500 206,1213.500 L206,1180.500 C197,1180.500 193,1178 193,1173 Z" fill="#eeede9"/>
  <path d="M206,1182 L285,1182 C293,1184 299,1190 301,1197 C299,1204 293,1210 285,1212 L206,1212 Z" fill="#cbcbc8" stroke="#a9a8a2" stroke-width="0.8"/>
  <path d="M206,1197 L296,1197 M224,1182 L224,1212 M287,1182 L287,1212 M238,1184 L246,1197 L238,1210 M264,1184 L272,1197 L264,1210" fill="none" stroke="#efeeea" stroke-width="1.3"/>
  <path d="M204,1170 L285,1170 M204,1176 L285,1176 M204,1218 L285,1218 M204,1224 L285,1224" fill="none" stroke="#b9b8b2" stroke-width="1" stroke-dasharray="1 1.4"/>
 </g>
 <path d="M193,1173 C194,1168 198,1166 204,1166 L285,1166 C300,1168 312,1176 318,1186 L323,1197 L318,1208 C312,1218 300,1226 285,1228 L204,1228 C198,1228 194,1226 193,1221 C193,1216 197,1213.500 206,1213.500 L206,1180.500 C197,1180.500 193,1178 193,1173 Z" fill="none" stroke="#a3a29c" stroke-width="1" stroke-dasharray="1.3 1.2"/>
 <path d="M297,1174 C306,1179 313,1188 316,1197 C313,1206 306,1215 297,1220 M297,1181 C303,1185 307,1191 308,1197 C307,1203 303,1209 297,1213 M316,1186 L316,1208" fill="none" stroke="#b5b4ae" stroke-width="0.9" stroke-dasharray="1.5 1.2"/>
 <!-- engine room bulkhead -->
 <path d="M420,1097 L420,1297" stroke="#b9b8b3" stroke-width="2.2"/>
 <path d="M423,1097 L423,1297" stroke="#efeeeb" stroke-width="1.4"/>
 <path d="M410,1112 L416,1128 M421,1110 L421,1128 M432,1112 L426,1128 M404,1116 C412,1108 430,1108 438,1116 L421,1132 Z" fill="none" stroke="#f0efec" stroke-width="1" opacity="0.8"/>
  <clipPath id="clipHullL"><use href="#hullL"/></clipPath>
 <g clip-path="url(#clipHullL)">
  <!-- accommodation floor -->
  <path d="M452,1090 L928,1090 L928,1300 L472,1300 L472,1185 L452,1185 Z" fill="#d0cdc7"/>
  <path d="M928,1090 L1000,1090 L1000,1300 L928,1300 Z" fill="#e4e2dc"/>
  <path d="M926,1135 C942,1136 954,1140 964,1145 C975,1150 983,1156 988,1162 C994,1172 996.500,1183 996.500,1193 C996.500,1203 995,1212 993,1219 C989,1228 982,1235 973.600,1241 C960,1249 945,1255 928,1258 C918,1256 910,1253 904,1250.600 L904,1184 L926,1174 Z" fill="#d0cdc7"/>
  <!-- lighter hull side strips -->
  <path d="M599,1090 L1000,1090 L1000,1136 L928,1136 L928,1108 L869,1108 L869,1106 L599,1106 Z" fill="#e4e2dc"/>
  <path d="M599,1286 L869,1286 L869,1262 L928,1258 L1000,1258 L1000,1300 L599,1300 Z" fill="#e4e2dc"/>
  <rect x="787" y="1100" width="81" height="18.500" fill="#e4e2dc"/><rect x="787" y="1277.500" width="81" height="18" fill="#e4e2dc"/>
  <rect x="869" y="1104" width="59" height="28" fill="#dddad3"/>
  <!-- ===== section 1 ===== -->
  <rect x="455" y="1097" width="26" height="9" fill="#ebe9e4"/>
  <rect x="455" y="1106" width="25" height="29" fill="url(#pBath)"/>
  <rect x="456" y="1107" width="5" height="27" fill="#8db2dd"/>
  <circle cx="472" cy="1126" r="6" fill="#b5c4cf"/><use href="#sink" x="462" y="1122" transform="translate(0,0) scale(1)"/>
  <rect x="470" y="1108" width="8" height="8" fill="#f2f6fa"/>
  <rect x="482" y="1097" width="22" height="14" fill="#dcd5c8"/>
  <path d="M505,1099 L527,1099 L527,1136 C520,1137 512,1139 505,1142 Z" fill="url(#pBed)"/>
  <path d="M505,1142 C512,1139 520,1137 527,1136 L527,1152 L505,1152 Z" fill="#f3f4f8"/>
  <rect x="505" y="1099" width="22" height="53" fill="none" stroke="#f5f3ee" stroke-width="1.6"/>
  <rect x="454.500" y="1159" width="18" height="24" fill="#d9d3c6" stroke="#f5f3ee" stroke-width="1.6"/>
  <rect x="456" y="1175" width="15" height="7" fill="#cdc6b8"/>
  <path d="M490,1157 L514,1157 L534,1175 L534,1199 L519,1199 L519,1187 L504,1171 L490,1171 Z" fill="#f5e3a3" stroke="#d6bf78" stroke-width="0.8"/>
  <path d="M504,1171 L506,1158 M519,1187 L533,1176" stroke="#d6bf78" stroke-width="0.8"/>
  <ellipse cx="502" cy="1187" rx="16" ry="10.5" transform="rotate(35 502 1187)" fill="#aab1cf" stroke="#c9cee2" stroke-width="1"/>
  <path d="M474,1200 L489,1215 L474,1215 Z" fill="#d9d3c6" stroke="#f5f3ee" stroke-width="1.4"/>
  <rect x="473" y="1218" width="45" height="31" fill="url(#pBath)"/>
  <rect x="474" y="1239" width="12" height="9" fill="#5f97cc"/>
  <circle cx="483" cy="1228" r="7" fill="#b5c4cf"/>
  <path d="M496,1218 A10,10 0 0 0 516,1218 Z" fill="#2f56a4"/><use href="#sink" x="506" y="1222"/>
  <rect x="493" y="1238" width="8" height="10" fill="#f4f7fb"/>
  <rect x="474" y="1253" width="14" height="14" fill="#c09355"/>
  <!-- bottom beds -->
  <path d="M473,1268 L505,1268 L511,1294 L473,1294 Z" fill="url(#pBed)"/>
  <path d="M505,1268 L527,1268 L527,1294 L511,1294 Z" fill="#f1f2f6"/>
  <path d="M513,1272 L513,1293 M520,1272 L520,1293" stroke="#c9cbd6" stroke-width="0.8"/>
  <path d="M530,1268 L552,1268 L546,1294 L530,1294 Z" fill="#f1f2f6"/>
  <path d="M552,1268 L584,1268 L584,1294 L546,1294 Z" fill="url(#pBed)"/>
  <path d="M537,1272 L537,1293 M544,1272 L544,1293" stroke="#c9cbd6" stroke-width="0.8"/>
  <!-- galley -->
  <rect x="530" y="1096" width="70" height="21" fill="url(#pTile)"/>
  <rect x="530" y="1117" width="15" height="54" fill="url(#pTile)"/>
  <rect x="579" y="1117" width="20" height="150" fill="url(#pTile)"/>
  <rect x="551" y="1107" width="27" height="9" fill="#e6d7b0"/>
  <rect x="581" y="1118" width="8" height="25" fill="#2a2826"/><circle cx="585" cy="1124" r="2" fill="#6b6760"/><circle cx="585" cy="1131" r="2" fill="#6b6760"/><circle cx="585" cy="1138" r="2" fill="#6b6760"/>
  <rect x="581" y="1144" width="7" height="14" fill="#e9d9a2"/>
  <path d="M546,1119 L578,1119 L578,1173" fill="none" stroke="#b9b3a6" stroke-width="1.2"/>
  <rect x="538" y="1172" width="22" height="24" fill="#d9d3c6"/>
  <path d="M539,1196 a5,4 0 0 0 10,0 Z M551,1196 a5,4 0 0 0 10,0 Z" fill="#c4bdb0" stroke="#eeebe4" stroke-width="0.8"/>
  <rect x="537" y="1217" width="30" height="20" fill="#d9d1c2" stroke="#f5f3ee" stroke-width="1.4"/>
  <rect x="537" y="1237" width="30" height="14" fill="#c9a76b" stroke="#f5f3ee" stroke-width="1.4"/>
  <path d="M552,1217 L552,1237" stroke="#f5f3ee" stroke-width="1.2"/>
  <rect x="586" y="1277" width="12" height="20" fill="#b98f55"/>
  <path d="M568,1217 L568,1252 C572,1264 578,1268 590,1272" fill="none" stroke="#f5f3ee" stroke-width="1.6"/>
  <!-- walls section 1 -->
  <g fill="none" stroke="#f5f3ee" stroke-width="2">
   <path d="M453.500,1096 L453.500,1185 L472.500,1185 L472.500,1296"/>
   <path d="M481,1097 L481,1137 M453,1138 L480,1138 L492,1151 L492,1156 M504,1097 L504,1139 L494,1151 M528.500,1097 L528.500,1172"/>
   <path d="M473,1216.500 L519,1216.500 L519,1250 M473,1250.500 L519,1250.500 L528.500,1262 L528.500,1296 M473,1267.500 L528,1267.500 M530,1267.500 L585,1267.500 M528.500,1262 L537,1252"/>
   <path d="M535,1172 L535,1216 M520,1216.500 L535,1216.500"/>
   <path d="M600.500,1096 L600.500,1298"/>
  </g>
  <path d="M472,1187 L472,1296 M454,1097 L454,1185" stroke="#a9a59a" stroke-width="0.5" fill="none"/>
  <!-- ===== section 2 ===== -->
  <rect x="602" y="1110" width="50" height="12" fill="url(#pTile)"/>
  <path d="M603,1123 L610,1123 L610,1153 L628,1153 L628,1164 L603,1164 Z" fill="url(#pYellow)"/>
  <rect x="629" y="1153" width="11" height="11" fill="#ddd4c4"/>
  <path d="M635,1134 L651,1134" stroke="#6b675e" stroke-width="1.4"/>
  <path d="M640,1152 L655,1152 L655,1225 L644,1232 C640,1222 640,1172 640,1152 Z" fill="#f4eed6"/>
  <rect x="602" y="1168" width="38" height="42" fill="url(#pBlueStripe)"/>
  <path d="M602,1168 L640,1168 L640,1176 C632,1174 626,1182 618,1180 C612,1178 608,1181 602,1181 Z" fill="#a9c6e6"/>
  <rect x="602" y="1211" width="50" height="71" fill="url(#pBath)"/>
  <rect x="602" y="1211" width="14" height="71" fill="#86abd9"/>
  <use href="#sink" x="610" y="1226"/><use href="#sink" x="610" y="1246"/>
  <rect x="620" y="1266" width="9" height="13" rx="2" fill="#f6f8fb"/><rect x="633" y="1266" width="11" height="13" rx="2" fill="#f6f8fb"/>
  <rect x="648" y="1236" width="4" height="30" fill="#2f56a4"/>
  <path d="M636,1242 L652,1242" stroke="#3a5a8c" stroke-width="1.2"/>
  <g fill="none" stroke="#f5f3ee" stroke-width="2">
   <path d="M602,1109 L653,1109 M602,1166 L642,1166 M602,1210.500 L642,1210.500 M602,1283 L653,1283"/>
   <path d="M653.500,1096 L653.500,1152 M653.500,1228 L653.500,1298"/>
  </g>
  <!-- ===== master cabin ===== -->
  <path d="M655,1116 L712,1116 L712,1138 L655,1130 Z" fill="url(#pYellow)"/>
  <rect x="713" y="1116" width="33" height="21" fill="#d9d1c4"/>
  <rect x="729" y="1137" width="18" height="60" fill="#d9d5cd"/>
  <path d="M656,1260 L726,1252 L726,1277 L656,1277 Z" fill="url(#pYellow)"/>
  <rect x="728" y="1253" width="18" height="24" fill="#d9d1c4"/>
  <path d="M655,1111.500 L747,1111.500 M655,1283.500 L747,1283.500" stroke="#2b2b29" stroke-width="2.4"/>
  <path d="M655,1114.500 L747,1114.500 M655,1280.500 L747,1280.500" stroke="#f5f3ee" stroke-width="1.4"/>
  <rect x="647" y="1169" width="22" height="25" fill="#f3f4f8" stroke="#b9bccb" stroke-width="0.8"/>
  <rect x="647" y="1194" width="22" height="25" fill="#f3f4f8" stroke="#b9bccb" stroke-width="0.8"/>
  <path d="M669,1168 L700,1168 C707,1168 710,1172 710,1178 L710,1211 C710,1217 707,1221 700,1221 L669,1221 L662,1195 Z" fill="url(#pBed)" stroke="#1c256e" stroke-width="0.8"/>
  <path d="M647,1222 L700,1222" stroke="#4a4a48" stroke-width="1.4"/>
  <rect x="724" y="1148" width="7" height="27" fill="#cbb797" stroke="#9a8868" stroke-width="0.7"/>
  <path d="M727.500,1175 L727.500,1213" stroke="#efece6" stroke-width="2"/>
  <path d="M747,1197 L752,1197" stroke="#f5f3ee" stroke-width="2"/>
  <g fill="none" stroke="#f5f3ee" stroke-width="2"><path d="M750.500,1097 L750.500,1298"/></g>
  <!-- ===== section 3 ===== -->
  <rect x="753" y="1111" width="32" height="41" fill="url(#pBath)"/>
  <rect x="753" y="1111" width="6" height="41" fill="#86abd9"/>
  <rect x="767" y="1113" width="7" height="10" rx="2" fill="#f6f8fb"/><rect x="775" y="1113" width="8" height="12" rx="3" fill="#f6f8fb"/>
  <use href="#sink" x="762" y="1138"/>
  <rect x="781" y="1113" width="4" height="38" fill="#2f56a4"/>
  <rect x="753" y="1154" width="31" height="18" fill="url(#pBlueStripe)"/>
  <rect x="752" y="1175" width="32" height="22" fill="#e2ded5"/>
  <path d="M758,1175 L758,1197 M764,1175 L764,1197 M770,1175 L770,1197 M776,1175 L776,1197" stroke="#c9c4b8" stroke-width="0.9"/>
  <rect x="752" y="1198" width="34" height="20" fill="#d6d2ca"/>
  <path d="M771,1199 L771,1217 M777,1199 L777,1217" stroke="#c4bfb4" stroke-width="0.9"/>
  <rect x="753" y="1222" width="31" height="19" fill="url(#pBlueStripe)"/>
  <rect x="753" y="1243" width="32" height="39" fill="url(#pBath)"/>
  <rect x="753" y="1243" width="6" height="39" fill="#86abd9"/>
  <use href="#sink" x="763" y="1257"/>
  <rect x="773" y="1268" width="9" height="12" rx="3" fill="#f6f8fb"/>
  <path d="M784,1262 L792,1253" stroke="#3a4a6a" stroke-width="1.3"/>
  <g fill="none" stroke="#f5f3ee" stroke-width="2">
   <path d="M753,1110 L786,1110 M753,1153 L786,1153 M753,1173.500 L786,1173.500 M753,1220.500 L786,1220.500 M753,1242 L786,1242 M753,1283 L786,1283"/>
   <path d="M786,1110 L786,1198 M786,1218 L786,1283"/>
  </g>
  <rect x="788" y="1101" width="18" height="22" fill="#baa178" stroke="#8d7246" stroke-width="0.8"/>
  <rect x="788" y="1272" width="18" height="21" fill="#baa178" stroke="#8d7246" stroke-width="0.8"/>
  <!-- ===== bunks ===== -->
  <g id="bunk">
   <path d="M808,1119 L848,1119 L844,1144 L808,1144 Z" fill="url(#pBed)"/>
   <path d="M848,1119 L866,1119 L866,1144 L844,1144 Z" fill="#f3f4f8"/>
   <rect x="807.500" y="1118.500" width="59" height="26" fill="none" stroke="#f5f3ee" stroke-width="1.4"/>
  </g>
  <use href="#bunk" y="44"/><use href="#bunk" y="93"/><use href="#bunk" y="133"/>
  <rect x="808" y="1146" width="58" height="16" fill="#d9d5cc"/><rect x="851" y="1146" width="15" height="16" fill="#f3f2ee" stroke="#cfccc4" stroke-width="0.7"/>
  <rect x="808" y="1237" width="58" height="14" fill="#d9d5cc"/><rect x="851" y="1237" width="15" height="14" fill="#f3f2ee" stroke="#cfccc4" stroke-width="0.7"/>
  <path d="M808,1188.500 L866,1188.500 M808,1210.500 L866,1210.500" stroke="#8d8a82" stroke-width="0.8"/>
  <path d="M868,1106 L868,1290" stroke="#f5f3ee" stroke-width="2"/>
  <!-- ===== section 5 ===== -->
  <rect x="870" y="1133" width="34" height="50" fill="url(#pBath)"/>
  <rect x="870" y="1133" width="6" height="50" fill="#86abd9"/>
  <rect x="881" y="1136" width="7" height="12" rx="2" fill="#f6f8fb"/><rect x="889" y="1137" width="9" height="12" rx="3" fill="#f6f8fb"/>
  <use href="#sink" x="877" y="1169" transform="scale(1)"/>
  <path d="M905,1150 L926,1147 L926,1172 L915,1179 L905,1179 Z" fill="url(#pBlueStripe)"/>
  <path d="M905,1146 L926,1146" stroke="#a9c6e6" stroke-width="3"/>
  <g fill="none" stroke="#f5f3ee" stroke-width="2">
   <path d="M869,1132 L905,1132 M905,1110 L905,1182 M869,1184 L902,1184 L915,1180 L927,1173 M927,1112 L927,1174"/>
  </g>
  <!-- VIP cabin -->
  <path d="M928,1135 C942,1136 954,1140 964,1145 C975,1150 983,1156 988,1162 C994,1172 996.500,1183 996.500,1193 C996.500,1203 995,1212 993,1219 C989,1228 982,1235 973.600,1241 C960,1249 945,1255 928,1258 C918,1256 910,1253 904,1250.600" fill="none" stroke="#6b5a3a" stroke-width="1.2"/>
  <path d="M928,1137 C942,1138 953,1142 963,1147 L948,1149 L928,1149 Z" fill="#c9c2b4"/>
  <rect x="929" y="1149" width="18" height="18" fill="#d6cfc2"/>
  <path d="M949.500,1148.600 C962,1151 972,1157 979,1165 C988,1175 993,1188 993.500,1199 L993,1212 L973.600,1212 L973.600,1199 C973,1192 970,1184 965,1179 C960,1174 954,1171 948.400,1169 Z" fill="#f3dc8a" stroke="#c9ae5c" stroke-width="0.8"/>
  <path d="M953,1152 C964,1155 973,1161 979,1168 C986,1177 990,1188 990,1199 L990,1211" fill="none" stroke="#faefc0" stroke-width="2.4"/>
  <path d="M966,1160 L958,1174 M981,1174 L968,1183 M992,1194 L974,1196" stroke="#c9ae5c" stroke-width="0.7"/>
  <path d="M903,1248 C915,1254 930,1256 945,1252 C965,1246 985,1232 993,1213 L986,1212 C978,1228 962,1240 944,1246 C930,1250 916,1249 905,1244 Z" fill="#dcdce0" stroke="#a9a9ae" stroke-width="0.7"/>
  <g transform="translate(938,1209) rotate(-24)">
   <rect x="-25" y="-25" width="51" height="52" rx="5" fill="#8e8b82" opacity="0.5" transform="translate(-2,2)"/>
   <rect x="-24" y="10" width="50" height="17" rx="2" fill="#f3f4f8" stroke="#b9bccb" stroke-width="0.8"/>
   <path d="M1,11 L1,27" stroke="#b9bccb" stroke-width="0.8"/>
   <path d="M-18,-25 L20,-25 C24,-25 26,-23 26,-19 L26,10 L1,15 L-24,10 L-24,-19 C-24,-23 -22,-25 -18,-25 Z" fill="url(#pBed)" stroke="#1c256e" stroke-width="0.8"/>
  </g>
  <!-- left small room under bunks -->
  <path d="M869,1212 L884,1222 L893,1240 L899,1255 L869,1255 Z" fill="#d6d2ca"/>
  <path d="M869,1212 L884,1222 L893,1240 L899,1255 L912,1283" fill="none" stroke="#f5f3ee" stroke-width="1.8"/>
  <rect x="868" y="1254" width="31" height="12" fill="#d9cdb4"/>
  <path d="M870,1258 l4,0 m2,0 l4,0 m2,0 l4,0 m2,0 l4,0 m2,0 l3,0 M870,1262 l4,0 m2,0 l4,0 m2,0 l4,0 m2,0 l4,0 m2,0 l3,0" stroke="#9a7a4a" stroke-width="1.4"/>
  <path d="M869,1268 L905,1262 M869,1275 L909,1270" stroke="#f1eee8" stroke-width="1.4"/>
  <path d="M904,1250 L904,1262 L914,1285 L928,1283 L928,1258" fill="#dcd8d0" stroke="#f5f3ee" stroke-width="1.4"/>
  <!-- fwd bulkhead -->
  <path d="M999.500,1131 L999.500,1264" stroke="#a9a8a4" stroke-width="1.3"/>
  <path d="M1001.500,1131 L1001.500,1264" stroke="#f3f2ef" stroke-width="1.3"/>
 </g>
 <!-- portholes -->
 <g>
  <use href="#ph" x="464" y="1094"/><use href="#ph" x="515" y="1094"/><use href="#ph" x="550" y="1094"/><use href="#ph" x="582" y="1094"/><use href="#ph" x="624" y="1094"/>
  <use href="#ph" x="765" y="1098"/><use href="#ph" x="823" y="1100.500"/><use href="#ph" x="846" y="1102.500"/><use href="#ph" x="893" y="1108"/><use href="#ph" x="954" y="1118"/><use href="#ph" x="982" y="1126"/>
  <use href="#ph" x="500" y="1300"/><use href="#ph" x="553" y="1300"/><use href="#ph" x="627" y="1300"/><use href="#ph" x="730" y="1298"/><use href="#ph" x="765" y="1296.500"/><use href="#ph" x="823" y="1293"/><use href="#ph" x="846" y="1291.500"/><use href="#ph" x="954" y="1277"/><use href="#ph" x="982" y="1270"/>
  <use href="#ph3" x="683" y="1098"/><use href="#ph3" x="683" y="1296.500"/>
 </g>

</g>

<g id="labels">
<text class="lbl" x="1030.6" y="524" style="letter-spacing:1.65px">Upper Deck</text>
<text class="lbl" x="1044.6" y="922.500" style="letter-spacing:2.05px">Main Deck</text>
<text class="lbl" x="1032.5" y="1318.500" style="letter-spacing:1.25px">Lower Deck</text>
</g>

<linearGradient id="gWM" gradientUnits="userSpaceOnUse" x1="690" y1="0" x2="1000" y2="0">
 <stop offset="0" stop-color="#64d25a" stop-opacity="0.012"/><stop offset="0.45" stop-color="#64d25a" stop-opacity="0.03"/><stop offset="0.8" stop-color="#64d25a" stop-opacity="0.12"/><stop offset="1" stop-color="#64d25a" stop-opacity="0.22"/>
</linearGradient>
<g id="watermark">
 <!-- D -->
 <path transform="translate(9,0)" d="M700,686 L745,686 C790,690 805,750 805,808 C805,866 790,926 745,931 L700,931 Z M736,722 L736,895 C760,890 769,850 769,808 C769,766 760,727 736,722 Z" fill="url(#gWM)" fill-rule="evenodd"/>
 <!-- M -->
 <path d="M806,686 L823,686 L912.500,797 L1002,686 L1019,686 Q1028,686 1028,695 L1028,913 C1028,925 1021,931 1010,931 C999,931 992,925 992,913 L992,749 L912.500,848 L833,749 L833,913 C833,925 826,931 815,931 C804,931 797,925 797,913 L797,695 Q797,686 806,686 Z" fill="url(#gWM)"/>
 <!-- E bars -->
 <g fill="#64d25a" fill-opacity="0.22">
  <path d="M1078,687 L1170,687 C1190,688 1206,694 1215.500,705 C1206,716 1190,722 1170,723 L1078,723 Q1067.500,723 1067.500,712 L1067.500,698 Q1067.500,687 1078,687 Z"/>
  <path d="M1083,792.500 L1160,792.500 C1178,793.500 1193,799.500 1202,810.500 C1193,821.500 1178,827.500 1160,828.500 L1083,828.500 Q1072.500,828.500 1072.500,818 L1072.500,803 Q1072.500,792.500 1083,792.500 Z"/>
  <path d="M1078,895.500 L1170,895.500 C1190,896.500 1206,902.500 1215.500,913.500 C1206,924.500 1190,930.500 1170,931.500 L1078,931.500 Q1067.500,931.500 1067.500,921 L1067.500,906 Q1067.500,895.500 1078,895.500 Z"/>
 </g>
</g>

</svg>
</body>
</html>
